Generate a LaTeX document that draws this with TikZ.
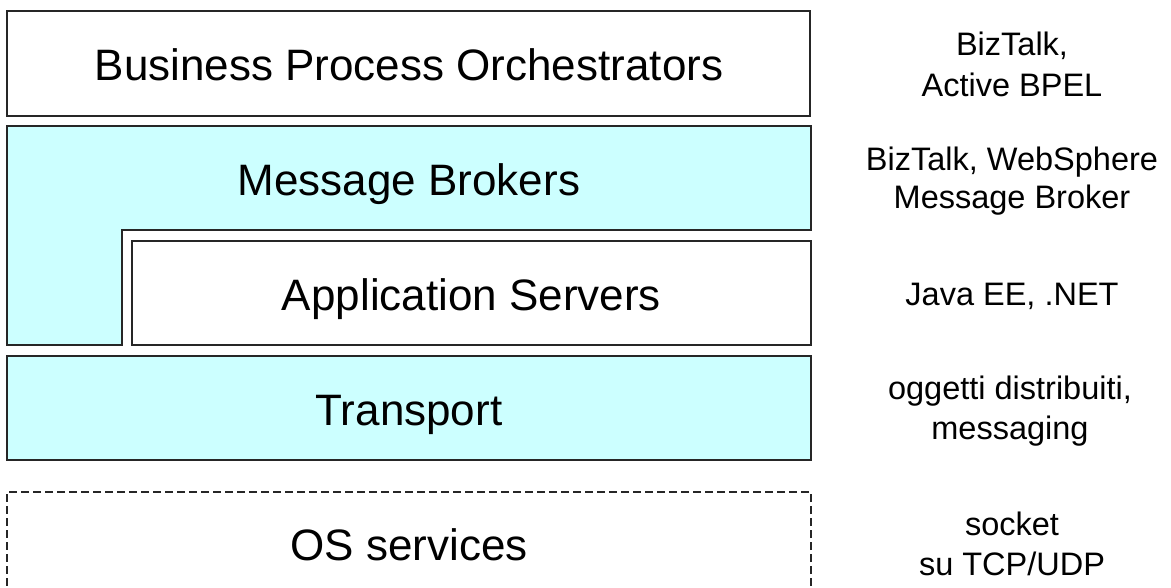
\documentclass[tikz,border=0pt]{standalone}
\usepackage{fontspec}
\setmainfont{Liberation Sans}
\definecolor{layercyan}{HTML}{CCFFFF}
\definecolor{edgegray}{HTML}{262626}
\begin{document}
\begin{tikzpicture}[x=1pt,y=-1pt,
  layerbox/.style={draw=edgegray,line width=1.4pt,rectangle,inner sep=0pt},
  filledlayer/.style={layerbox,fill=layercyan},
  dashedlayer/.style={layerbox,dash pattern=on 8pt off 4pt,line width=1.1pt},
  maintext/.style={inner sep=0pt,anchor=base,font=\fontsize{44}{52}\selectfont},
  sidetext/.style={inner sep=0pt,anchor=base,font=\fontsize{32.5}{39}\selectfont}]
\useasboundingbox (0,0) rectangle (1171,587);
\clip (0,0) rectangle (1171,587);
% Business Process Orchestrators
\node[layerbox,minimum width=803pt,minimum height=105pt] (bpo) at (408.5,63.5) {};
\node[maintext] (bpot) at (409,80.5) {Business Process Orchestrators};
% Message Brokers (L shape)
\draw[draw=edgegray,line width=1.4pt,fill=layercyan]
  (7,126) -- (811,126) -- (811,230) -- (122,230) -- (122,345) -- (7,345) -- cycle;
\node[maintext] (mb) at (409,195) {Message Brokers};
% Application Servers
\node[layerbox,minimum width=679pt,minimum height=104pt] (as) at (471.5,293) {};
\node[maintext] (ast) at (471.5,310) {Application Servers};
% Transport
\node[filledlayer,minimum width=804pt,minimum height=104pt] (tr) at (409,408) {};
\node[maintext] (trt) at (409,425) {Transport};
% OS services
\node[dashedlayer,minimum width=804pt,minimum height=106pt] (os) at (409,545) {};
\node[maintext] (ost) at (409,560) {OS services};
% side labels
\node[sidetext] (s1a) at (1012,55) {BizTalk,};
\node[sidetext] (s1b) at (1012,96) {Active BPEL};
\node[sidetext] (s2a) at (1012,170) {BizTalk, WebSphere};
\node[sidetext] (s2b) at (1012,208) {Message Broker};
\node[sidetext] (s3) at (1012,305) {Java EE, .NET};
\node[sidetext] (s4a) at (1010,399) {oggetti distribuiti,};
\node[sidetext] (s4b) at (1010,439) {messaging};
\node[sidetext] (s5a) at (1012,535) {socket};
\node[sidetext] (s5b) at (1012,575) {su TCP/UDP};
\end{tikzpicture}
\end{document}
